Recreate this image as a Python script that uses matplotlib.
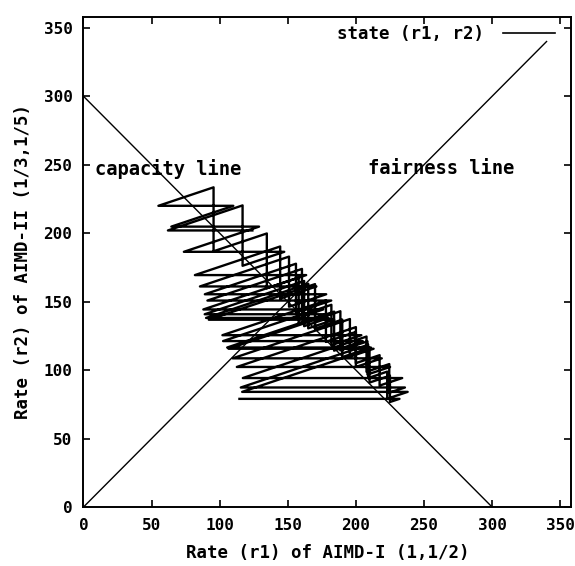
import matplotlib
matplotlib.use("Agg")
import matplotlib.pyplot as plt

# state trajectory (r1, r2), vertices
state_r1 = [124.0, 62.0, 116.8, 116.8, 147.4, 73.7, 128.9, 64.5, 110.0, 55.0,
            95.5, 95.5, 134.6, 134.6, 163.5, 81.8, 144.4, 144.4, 171.0, 85.5,
            150.9, 150.9, 178.2, 89.1, 156.0, 156.0, 181.9, 91.0, 160.4, 160.4,
            176.0, 88.0, 158.0, 158.0, 178.0, 89.0, 162.0, 162.0, 180.0, 90.0,
            165.0, 165.0, 184.0, 92.0, 170.0, 170.0, 190.0, 190.0, 211.0, 105.5,
            184.0, 184.0, 205.0, 102.5, 182.0, 182.0, 204.0, 102.0, 178.0, 178.0,
            200.0, 200.0, 219.0, 109.5, 195.6, 195.6, 213.0, 106.5, 188.6, 188.6,
            208.5, 208.5, 225.1, 112.6, 200.0, 200.0, 217.4, 217.4, 234.0, 117.0,
            207.8, 207.8, 224.5, 224.5, 236.0, 115.5, 209.0, 209.0, 223.0, 223.0,
            238.0, 116.5, 210.0, 210.0, 225.0, 225.0, 232.0, 114.5]
state_r2 = [202.0, 202.0, 220.3, 176.2, 186.4, 186.4, 204.8, 204.8, 220.0, 220.0,
            233.5, 186.8, 199.8, 159.8, 169.4, 169.4, 190.3, 152.2, 161.1, 161.1,
            182.9, 146.3, 155.4, 155.4, 177.7, 142.2, 150.8, 150.8, 173.9, 139.1,
            144.3, 144.3, 167.6, 134.1, 140.8, 140.8, 165.1, 132.1, 138.1, 138.1,
            163.1, 130.5, 136.8, 136.8, 162.8, 130.2, 136.9, 109.5, 116.5, 116.5,
            142.7, 114.2, 121.2, 121.2, 147.7, 118.2, 125.5, 125.5, 150.8, 120.6,
            127.9, 102.3, 108.6, 108.6, 137.3, 109.8, 115.6, 115.6, 143.0, 114.4,
            121.0, 96.8, 102.3, 102.3, 131.4, 105.1, 110.9, 88.7, 94.2, 94.2,
            124.5, 98.8, 104.4, 83.5, 87.3, 87.3, 118.5, 94.2, 98.9, 79.1,
            84.1, 84.1, 115.3, 90.9, 95.9, 76.7, 79.0, 79.0]

capacity_r1 = [0, 300]
capacity_r2 = [300, 0]
fairness_r1 = [0, 340]
fairness_r2 = [0, 340]

ticks = [0, 50, 100, 150, 200, 250, 300, 350]

tick_font = {'family': 'DejaVu Sans Mono', 'weight': 'bold', 'size': 11.5}
label_font = {'family': 'DejaVu Sans Mono', 'weight': 'bold', 'size': 12.5}
note_font = {'family': 'DejaVu Sans Mono', 'weight': 'bold', 'size': 13.5}

fig = plt.figure(figsize=(5.75, 5.66), dpi=100)
ax = fig.add_axes([0.1452, 0.1042, 0.848, 0.866])

ax.plot(state_r1, state_r2, color='black', linewidth=1.7, label='state (r1, r2)')
ax.plot(capacity_r1, capacity_r2, color='black', linewidth=1.0)
ax.plot(fairness_r1, fairness_r2, color='black', linewidth=1.0)

ax.text(8.4, 247, 'capacity line', fontdict=note_font, va='center', ha='left')
ax.text(209, 247, 'fairness line', fontdict=note_font, va='center', ha='left')

ax.set_xlim(0, 358)
ax.set_ylim(0, 358)
ax.set_xticks(ticks)
ax.set_yticks(ticks)
ax.set_xticklabels([str(t) for t in ticks], fontdict=tick_font)
ax.set_yticklabels([str(t) for t in ticks], fontdict=tick_font)
ax.tick_params(direction='in', length=5, width=1.2, top=True, right=True, pad=8)
for s in ax.spines.values():
    s.set_linewidth(1.4)

ax.set_xlabel('Rate (r1) of AIMD-I (1,1/2)', fontdict=label_font, labelpad=8)
ax.set_ylabel('Rate (r2) of AIMD-II (1/3,1/5)', fontdict=label_font, labelpad=8)

leg = ax.legend(loc='upper right', bbox_to_anchor=(1.0, 1.015), frameon=False,
                markerfirst=False, handlelength=3.0, handletextpad=1.1,
                borderaxespad=0.5,
                prop={'family': 'DejaVu Sans Mono', 'weight': 'bold', 'size': 12.5})
leg.get_lines()[0].set_linewidth(1.2)

fig.savefig('out.png', dpi=100)
